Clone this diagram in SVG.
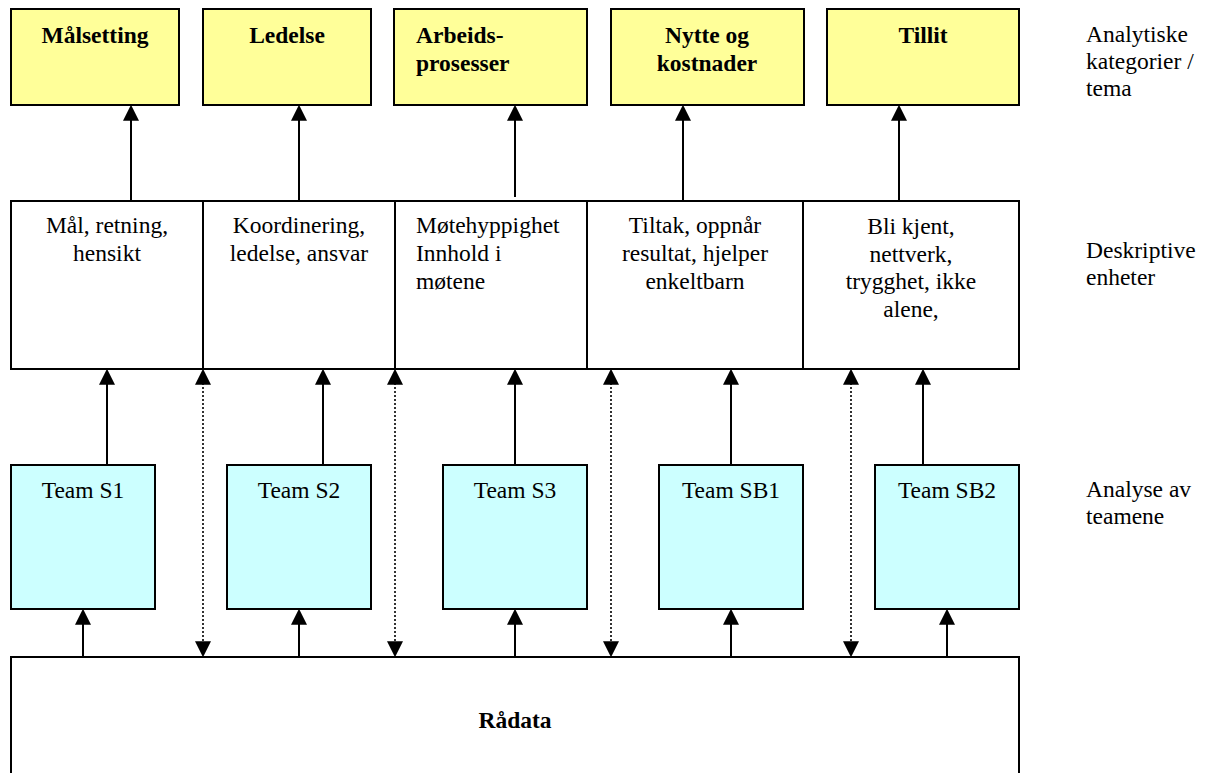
<svg xmlns="http://www.w3.org/2000/svg" width="1208" height="773" viewBox="0 0 1208 773">
<style>
.box{stroke:#000;stroke-width:2}
.cat{fill:#FFFF99}
.desc{fill:#fff}
.team{fill:#CCFFFF}
.raw{fill:#fff}
text{font-family:"Liberation Serif","Times New Roman",serif;font-size:23.5px;fill:#000}
.b{font-weight:bold}
.c{text-anchor:middle}
.conn line{stroke:#000;stroke-width:2;fill:none}
.conn line.dot{stroke-width:1.6;stroke-dasharray:2 2}
</style>
<defs>
<marker id="ah" markerUnits="userSpaceOnUse" markerWidth="16" markerHeight="16" viewBox="0 0 14 14" refX="12" refY="7" orient="auto-start-reverse">
<path d="M0,0 L14,7 L0,14 z" fill="#000"/>
</marker>
</defs>
<rect width="1208" height="773" fill="#fff"/>

<g id="cat-malsetting"><rect class="box cat" x="11" y="9" width="168" height="96"/><text class="b c" x="95" y="43">Målsetting</text></g>
<g id="cat-ledelse"><rect class="box cat" x="203" y="9" width="168" height="96"/><text class="b c" x="287" y="43">Ledelse</text></g>
<g id="cat-arbeid"><rect class="box cat" x="394" y="9" width="193" height="96"/><text class="b" x="416" y="43">Arbeids-</text><text class="b" x="416" y="71">prosesser</text></g>
<g id="cat-nytte"><rect class="box cat" x="611" y="9" width="193" height="96"/><text class="b c" x="707" y="43">Nytte og</text><text class="b c" x="707" y="71">kostnader</text></g>
<g id="cat-tillit"><rect class="box cat" x="827" y="9" width="192" height="96"/><text class="b c" x="923" y="43">Tillit</text></g>

<g id="desc-1"><rect class="box desc" x="11" y="201" width="192" height="168"/><text class="c" x="107" y="233">Mål, retning,</text><text class="c" x="107" y="261">hensikt</text></g>
<g id="desc-2"><rect class="box desc" x="203" y="201" width="192" height="168"/><text class="c" x="299" y="233">Koordinering,</text><text class="c" x="299" y="261">ledelse, ansvar</text></g>
<g id="desc-3"><rect class="box desc" x="395" y="201" width="192" height="168"/><text x="416" y="233">Møtehyppighet</text><text x="416" y="261">Innhold i</text><text x="416" y="289">møtene</text></g>
<g id="desc-4"><rect class="box desc" x="587" y="201" width="216" height="168"/><text class="c" x="695" y="233">Tiltak, oppnår</text><text class="c" x="695" y="261">resultat, hjelper</text><text class="c" x="695" y="289">enkeltbarn</text></g>
<g id="desc-5"><rect class="box desc" x="803" y="201" width="216" height="168"/><text class="c" x="911" y="234">Bli kjent,</text><text class="c" x="911" y="262">nettverk,</text><text class="c" x="911" y="289">trygghet, ikke</text><text class="c" x="911" y="317">alene,</text></g>

<g id="team-s1"><rect class="box team" x="11" y="465" width="144" height="144"/><text class="c" x="83" y="498">Team S1</text></g>
<g id="team-s2"><rect class="box team" x="227" y="465" width="144" height="144"/><text class="c" x="299" y="498">Team S2</text></g>
<g id="team-s3"><rect class="box team" x="443" y="465" width="144" height="144"/><text class="c" x="515" y="498">Team S3</text></g>
<g id="team-sb1"><rect class="box team" x="659" y="465" width="144" height="144"/><text class="c" x="731" y="498">Team SB1</text></g>
<g id="team-sb2"><rect class="box team" x="875" y="465" width="144" height="144"/><text class="c" x="947" y="498">Team SB2</text></g>

<g id="radata"><rect class="box raw" x="11" y="657" width="1008" height="140"/><text class="b c" x="515" y="728">Rådata</text></g>

<g id="labels">
<text x="1086" y="42">Analytiske</text><text x="1086" y="69">kategorier /</text><text x="1086" y="96">tema</text>
<text x="1086" y="258">Deskriptive</text><text x="1086" y="285">enheter</text>
<text x="1086" y="497">Analyse av</text><text x="1086" y="524">teamene</text>
</g>

<g id="connectors" class="conn">
<line x1="131" y1="201" x2="131" y2="107" marker-end="url(#ah)"/>
<line x1="299" y1="201" x2="299" y2="107" marker-end="url(#ah)"/>
<line x1="515" y1="197" x2="515" y2="107" marker-end="url(#ah)"/>
<line x1="683" y1="201" x2="683" y2="107" marker-end="url(#ah)"/>
<line x1="899" y1="201" x2="899" y2="107" marker-end="url(#ah)"/>

<line x1="107" y1="465" x2="107" y2="371" marker-end="url(#ah)"/>
<line x1="323" y1="465" x2="323" y2="371" marker-end="url(#ah)"/>
<line x1="515" y1="465" x2="515" y2="371" marker-end="url(#ah)"/>
<line x1="731" y1="465" x2="731" y2="371" marker-end="url(#ah)"/>
<line x1="923" y1="465" x2="923" y2="371" marker-end="url(#ah)"/>

<line class="dot" x1="203" y1="371" x2="203" y2="655" marker-start="url(#ah)" marker-end="url(#ah)"/>
<line class="dot" x1="395" y1="371" x2="395" y2="655" marker-start="url(#ah)" marker-end="url(#ah)"/>
<line class="dot" x1="611" y1="371" x2="611" y2="655" marker-start="url(#ah)" marker-end="url(#ah)"/>
<line class="dot" x1="851" y1="371" x2="851" y2="655" marker-start="url(#ah)" marker-end="url(#ah)"/>

<line x1="83" y1="657" x2="83" y2="611" marker-end="url(#ah)"/>
<line x1="299" y1="657" x2="299" y2="611" marker-end="url(#ah)"/>
<line x1="515" y1="657" x2="515" y2="611" marker-end="url(#ah)"/>
<line x1="731" y1="657" x2="731" y2="611" marker-end="url(#ah)"/>
<line x1="947" y1="657" x2="947" y2="611" marker-end="url(#ah)"/>
</g>
</svg>
